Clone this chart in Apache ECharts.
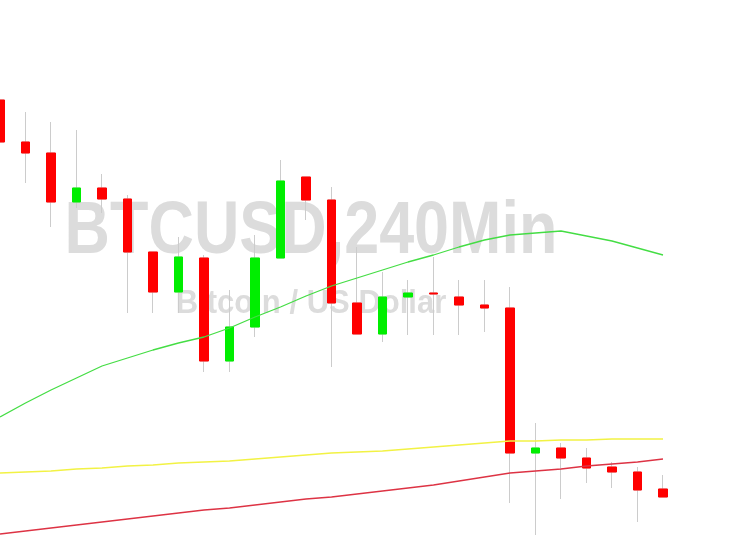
<!DOCTYPE html>
<html>
<head>
<meta charset="utf-8">
<script src="https://cdn.jsdelivr.net/npm/echarts@6/dist/echarts.min.js"></script>
<style>html,body{margin:0;padding:0;background:#fff;}#c{width:750px;height:536px;}</style>
</head>
<body>
<div id="c"></div>
<script>
const categories = ['08-01 00:00','08-01 04:00','08-01 08:00','08-01 12:00','08-01 16:00','08-01 20:00',
  '08-02 00:00','08-02 04:00','08-02 08:00','08-02 12:00','08-02 16:00','08-02 20:00',
  '08-03 00:00','08-03 04:00','08-03 08:00','08-03 12:00','08-03 16:00','08-03 20:00',
  '08-04 00:00','08-04 04:00','08-04 08:00','08-04 12:00','08-04 16:00','08-04 20:00',
  '08-05 00:00','08-05 04:00','08-05 08:00'];
const opens  = [32180,31970,31915,31670,31740,31685,31420,31220,31390,30875,31045,31390,31795,31680,31165,31010,31195,31215,31195,31155,31140,30415,30440,30390,30345,30320,30235];
const closes = [31970,31915,31670,31740,31685,31420,31220,31395,30875,31045,31390,31775,31680,31165,31010,31195,31215,31210,31155,31140,30415,30440,30390,30340,30320,30230,30195];
const lows   = [31970,31765,31545,31640,31615,31115,31115,31115,30820,30820,30995,31390,31580,30845,31010,30970,31005,31005,31005,31020,30165,30005,30185,30265,30240,30070,30195];
const highs  = [32180,32120,32070,32030,31810,31705,31420,31495,31405,31230,31505,31880,31795,31745,31445,31320,31280,31395,31280,31280,31245,30565,30465,30440,30370,30345,30305];
const maFast = [30595,30665,30730,30790,30850,30890,30930,30965,30995,31040,31095,31145,31200,31250,31290,31330,31370,31405,31445,31480,31505,31515,31525,31500,31475,31440,31405];
const maMid  = [30315,30320,30325,30335,30340,30350,30355,30365,30370,30375,30385,30395,30405,30415,30420,30425,30435,30445,30455,30465,30475,30475,30480,30480,30485,30485,30485];
const maSlow = [30010,30025,30040,30055,30070,30085,30100,30115,30130,30140,30155,30170,30185,30195,30210,30225,30240,30255,30275,30295,30315,30325,30335,30350,30360,30370,30385];
const titleText = 'BTCUSD,240Min';
const subText = 'Bitcoin / US Dollar';

const wickData = categories.map((c, i) => [opens[i], closes[i], lows[i], highs[i]]);
const bodyData = categories.map((c, i) => [opens[i], closes[i], Math.min(opens[i], closes[i]), Math.max(opens[i], closes[i])]);

const chart = echarts.init(document.getElementById('c'), null, {renderer: 'canvas'});
chart.setOption({
  animation: false,
  backgroundColor: '#ffffff',
  grid: {left: 0, right: 87, top: 0, bottom: 0, containLabel: false},
  xAxis: {type: 'category', data: categories, boundaryGap: false, show: false},
  yAxis: {type: 'value', min: 30000, max: 32680, show: false, scale: true},
  graphic: [
    {type: 'text', x: 311, y: 233, scaleX: 0.85, z: -10,
     style: {text: titleText, x: 0, y: 0, align: 'center', verticalAlign: 'middle',
             font: 'bold 74px "Liberation Sans", Arial, sans-serif', fill: '#dcdcdc'}},
    {type: 'text', x: 311, y: 304, scaleX: 0.94, z: -10,
     style: {text: subText, x: 0, y: 0, align: 'center', verticalAlign: 'middle',
             font: 'bold 33px "Liberation Sans", Arial, sans-serif', fill: '#dcdcdc'}}
  ],
  series: [
    {type: 'candlestick', data: wickData, barWidth: 9, z: 2,
     itemStyle: {color: 'rgba(0,0,0,0)', color0: 'rgba(0,0,0,0)', borderColor: '#cccccc', borderColor0: '#cccccc', borderWidth: 1}},
    {type: 'candlestick', data: bodyData, barWidth: 9, z: 3,
     itemStyle: {color: '#00ee00', color0: '#ff0000', borderColor: '#00ee00', borderColor0: '#ff0000', borderWidth: 1}},
    {type: 'line', data: maFast, showSymbol: false, smooth: false, z: 5,
     lineStyle: {color: '#44dd44', width: 1.3}},
    {type: 'line', data: maMid, showSymbol: false, smooth: false, z: 5,
     lineStyle: {color: '#f2f244', width: 1.3}},
    {type: 'line', data: maSlow, showSymbol: false, smooth: false, z: 5,
     lineStyle: {color: '#dd3344', width: 1.3}}
  ]
});
</script>
</body>
</html>
